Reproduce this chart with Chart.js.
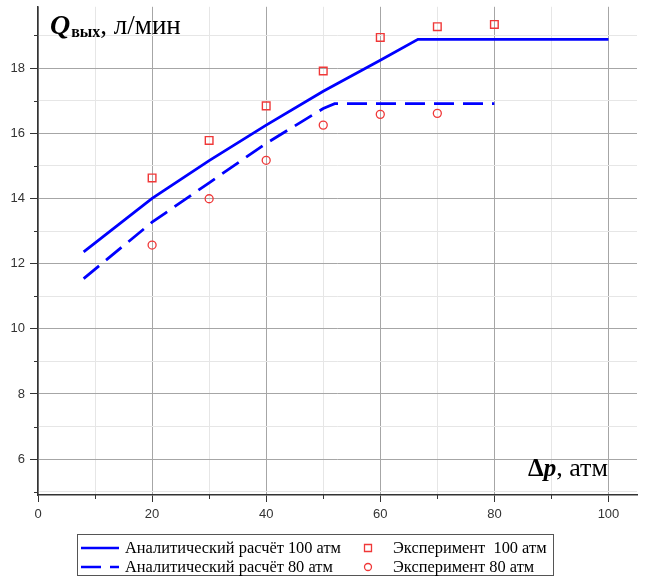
<!DOCTYPE html>
<html>
<head>
<meta charset="utf-8">
<script src="https://cdn.jsdelivr.net/npm/chart.js@4.4.0/dist/chart.umd.min.js"></script>
<style>
  body { margin: 0; background: #fff; }
</style>
</head>
<body>
<canvas id="chart" width="645" height="577"></canvas>
<script>
// расчётные кривые и экспериментальные точки
const calc100X = [8, 20, 30, 40, 50, 60, 66.6, 100];
const calc100Y = [12.36, 14.0, 15.16, 16.25, 17.29, 18.24, 18.88, 18.88];
const calc80X = [8, 20, 30, 40, 50, 52, 80];
const calc80Y = [11.54, 13.27, 14.48, 15.69, 16.76, 16.91, 16.91];
const exp100X = [20, 30, 40, 50, 60, 70, 80];
const exp100Y = [14.63, 15.78, 16.84, 17.91, 18.94, 19.27, 19.34];
const exp80X = [20, 30, 40, 50, 60, 70];
const exp80Y = [12.57, 13.99, 15.17, 16.25, 16.58, 16.61];
const xTickLabels = [0, 20, 40, 60, 80, 100];
const yTickLabels = [6, 8, 10, 12, 14, 16, 18];
const seriesNames = ['Аналитический расчёт 100 атм', 'Аналитический расчёт 80 атм', 'Эксперимент  100 атм', 'Эксперимент 80 атм'];

const BLUE = '#0000ff';
const RED = '#f03838';
const SERIF = '"Liberation Serif", "DejaVu Serif", serif';
const TICKFONT = '"Liberation Sans Narrow", "Liberation Sans", sans-serif';

function pts(xs, ys) {
    return xs.map((x, i) => ({ x: x, y: ys[i] }));
}

const extras = {
    id: 'extras',
    afterDraw(chart) {
        const ctx = chart.ctx;
        const xs = chart.scales.x, ys = chart.scales.y;
        ctx.save();
        // мелкие засечки
        ctx.strokeStyle = '#333';
        ctx.lineWidth = 1;
        ctx.beginPath();
        for (let v = 10; v < 100; v += 20) {
            const px = Math.round(xs.getPixelForValue(v)) + 0.5;
            ctx.moveTo(px, ys.bottom);
            ctx.lineTo(px, ys.bottom + 4);
        }
        for (let v = 5; v < 20; v += 2) {
            const py = Math.round(ys.getPixelForValue(v)) + 0.5;
            ctx.moveTo(xs.left - 4, py);
            ctx.lineTo(xs.left, py);
        }
        ctx.stroke();

        // подписи осей
        ctx.fillStyle = '#000';
        ctx.textBaseline = 'alphabetic';
        ctx.textAlign = 'left';
        let x = 50;
        ctx.font = 'bold italic 28px ' + SERIF;
        ctx.fillText('Q', x, 34);
        x += ctx.measureText('Q').width + 1;
        ctx.font = 'bold 16px ' + SERIF;
        ctx.fillText('вых', x, 37);
        x += ctx.measureText('вых').width;
        ctx.font = '27px ' + SERIF;
        ctx.fillText(', л/мин', x, 34);

        x = 528;
        ctx.font = 'bold 25px ' + SERIF;
        ctx.fillText('Δ', x, 476);
        x += ctx.measureText('Δ').width;
        ctx.font = 'bold italic 25px ' + SERIF;
        ctx.fillText('p', x, 476);
        x += ctx.measureText('p').width;
        ctx.font = '26px ' + SERIF;
        ctx.fillText(', атм', x, 476);

        // легенда
        ctx.strokeStyle = '#555';
        ctx.lineWidth = 1;
        ctx.strokeRect(77.5, 534.5, 476, 41);
        const rows = [548, 567];
        ctx.font = '16.4px ' + SERIF;
        ctx.textBaseline = 'middle';
        ctx.fillStyle = '#000';
        chart.data.datasets.forEach((ds, i) => {
            const col = i < 2 ? 0 : 1;
            const y = rows[i % 2];
            if (col === 0) {
                ctx.strokeStyle = BLUE;
                ctx.lineWidth = 2.5;
                ctx.setLineDash(ds.borderDash || []);
                ctx.beginPath();
                ctx.moveTo(81, y);
                ctx.lineTo(119, y);
                ctx.stroke();
                ctx.setLineDash([]);
                ctx.fillText(ds.label, 125, y + 1);
            } else {
                ctx.strokeStyle = RED;
                ctx.lineWidth = 1.3;
                ctx.beginPath();
                if (ds.pointStyle === 'rect') {
                    ctx.rect(364.5, y - 3.5, 7, 7);
                } else {
                    ctx.arc(368, y, 3.5, 0, Math.PI * 2);
                }
                ctx.stroke();
                ctx.fillText(ds.label, 393, y + 1);
            }
        });
        ctx.restore();
    }
};

function initChart() {
    let ctx = document.getElementById('chart').getContext('2d');
    new Chart(ctx, {
        type: 'scatter',
        data: {
            datasets: [{
                label: seriesNames[0],
                data: pts(calc100X, calc100Y),
                showLine: true,
                borderColor: BLUE,
                borderWidth: 2.8,
                pointRadius: 0,
                tension: 0
            }, {
                label: seriesNames[1],
                data: pts(calc80X, calc80Y),
                showLine: true,
                borderColor: BLUE,
                borderWidth: 2.8,
                borderDash: [20, 9],
                pointRadius: 0,
                tension: 0
            }, {
                label: seriesNames[2],
                data: pts(exp100X, exp100Y),
                showLine: false,
                pointStyle: 'rect',
                pointRadius: 5.4,
                borderColor: RED,
                backgroundColor: 'rgba(0,0,0,0)',
                borderWidth: 1.4
            }, {
                label: seriesNames[3],
                data: pts(exp80X, exp80Y),
                showLine: false,
                pointStyle: 'circle',
                pointRadius: 4,
                borderColor: RED,
                backgroundColor: 'rgba(0,0,0,0)',
                borderWidth: 1.3
            }]
        },
        options: {
            responsive: false,
            animation: false,
            layout: { padding: { top: 6, right: 8, left: 0, bottom: 0 } },
            plugins: {
                legend: { display: false },
                tooltip: { enabled: false }
            },
            scales: {
                x: {
                    type: 'linear',
                    min: 0,
                    max: 105,
                    afterFit: s => {
                        s.height = 82;
                        s.paddingLeft = 0;
                        s.paddingRight = 0;
                    },
                    border: { color: '#333', width: 1.5 },
                    grid: {
                        color: c => (c.tick.value % 20 === 0 ? '#a6a6a6' : '#e6e6e6'),
                        tickColor: c => (c.tick.value % 20 === 0 ? '#333' : 'rgba(0,0,0,0)'),
                        tickLength: 7
                    },
                    ticks: {
                        stepSize: 10,
                        includeBounds: false,
                        padding: 5,
                        color: '#333',
                        font: { family: TICKFONT, size: 13 },
                        callback: v => (xTickLabels.includes(v) ? String(v) : '')
                    }
                },
                y: {
                    type: 'linear',
                    min: 4.9,
                    max: 19.88,
                    afterFit: s => {
                        s.width = 38;
                        s.paddingTop = 0;
                        s.paddingBottom = 0;
                    },
                    border: { color: '#333', width: 1.5 },
                    grid: {
                        color: c => (c.tick.value % 2 === 0 ? '#a6a6a6' : '#e6e6e6'),
                        tickColor: c => (c.tick.value % 2 === 0 ? '#333' : 'rgba(0,0,0,0)'),
                        tickLength: 8
                    },
                    ticks: {
                        stepSize: 1,
                        includeBounds: false,
                        padding: 5,
                        color: '#333',
                        font: { family: TICKFONT, size: 13 },
                        callback: v => (yTickLabels.includes(v) ? String(v) : '')
                    }
                }
            }
        },
        plugins: [extras]
    });
}

initChart();
</script>
</body>
</html>
